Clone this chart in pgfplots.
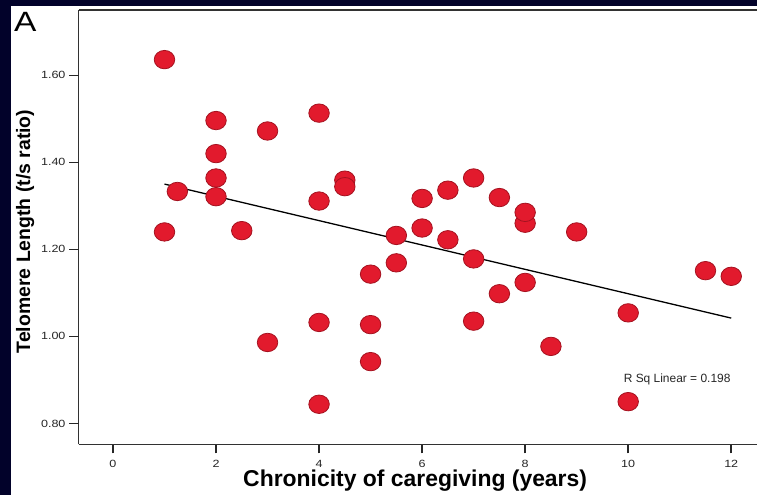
\documentclass[border=0pt]{standalone}
\usepackage{fontspec}
\setmainfont{Liberation Sans}
\usepackage{pgfplots}
\pgfplotsset{compat=1.18}
\definecolor{navybg}{RGB}{2,2,42}
\definecolor{dotred}{RGB}{226,26,45}
\definecolor{dotedge}{RGB}{165,18,32}
\definecolor{axgray}{RGB}{50,50,50}
\begin{document}
\begin{tikzpicture}
\path[use as bounding box] (0,0) rectangle (757bp,495bp);
\fill[navybg] (0,0) rectangle (757bp,495bp);
\fill[white] (11bp,0) rectangle (757bp,489bp);
\node[font=\fontsize{28}{30}\selectfont, xscale=1.2] at (25.3bp,473bp) {A};
\begin{axis}[
  at={(78.7bp,50.7bp)}, anchor=south west,
  scale only axis, width=678.3bp, height=434.3bp,
  xmin=-0.665, xmax=12.5, ymin=0.752, ymax=1.750,
  axis x line*=bottom, axis y line*=left,
  axis line style={line width=1.5bp, color=axgray, -},
  xtick={0,2,4,6,8,10,12},
  ytick={0.8,1.0,1.2,1.4,1.6},
  tick align=outside,
  major tick length=9bp,
  tick style={line width=1.5bp, color=black!85},
  /pgf/number format/assume math mode=true,
  tick label style={font=\fontsize{10.5}{12}\selectfont, color=black!85, xscale=1.2},
  xticklabel style={yshift=-3bp},
  yticklabel style={/pgf/number format/fixed, /pgf/number format/fixed zerofill, /pgf/number format/precision=2},
  xlabel={Chronicity of caregiving (years)},
  ylabel={Telomere Length (t/s ratio)},
  xlabel style={font=\bfseries\fontsize{23}{25}\selectfont, at={(axis description cs:0.496,-0.0845)}, anchor=center},
  ylabel style={font=\bfseries\fontsize{19.5}{21}\selectfont, at={(axis description cs:-0.079,0.49)}, anchor=center},
  clip=false,
]
\draw[line width=1.5bp, color=axgray] (rel axis cs:0,1) -- (rel axis cs:1,1);
\pgfplotsinvokeforeach{0.8,1.0,1.2,1.4,1.6}{
  \draw[line width=1.5bp, color=black!85] (axis cs:-0.665,#1) -- ++(-10bp,0bp);
}
\addplot[black, line width=1.3bp] coordinates {(1,1.350) (12,1.042)};
\addplot[only marks, mark=*, mark size=9.5bp,
  mark options={fill=dotred, draw=dotedge, line width=0.8bp, xscale=1.08, yscale=0.97}]
  coordinates {
  (1,1.636) (1,1.240) (1.25,1.333)
  (2,1.496) (2,1.420) (2,1.364) (2,1.321)
  (2.5,1.243)
  (3,1.472) (3,0.986)
  (4,1.513) (4,1.311) (4,1.032) (4,0.844)
  (4.5,1.359) (4.5,1.344)
  (5,1.143) (5,1.027) (5,0.942)
  (5.5,1.232) (5.5,1.169)
  (6,1.317) (6,1.249)
  (6.5,1.336) (6.5,1.222)
  (7,1.364) (7,1.178) (7,1.035)
  (7.5,1.319) (7.5,1.098)
  (8,1.260) (8,1.285) (8,1.124)
  (8.5,0.977)
  (9,1.240)
  (10,1.054) (10,0.850)
  (11.5,1.151) (12,1.138)
  };
\node[font=\fontsize{12}{14}\selectfont, color=black!85] at (axis cs:10.95,0.900) {R Sq Linear = 0.198};
\end{axis}
\end{tikzpicture}
\end{document}
